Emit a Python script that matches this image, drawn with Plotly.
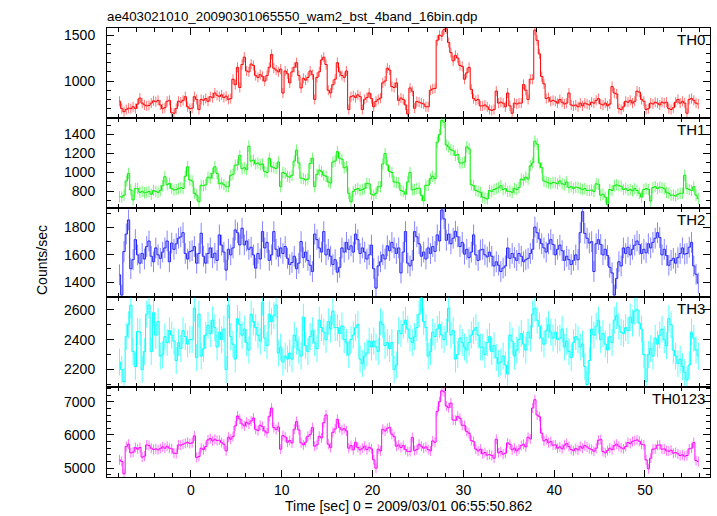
import numpy as np
import plotly.graph_objects as go
from plotly.subplots import make_subplots

# ---------------- data ----------------
bin_start = -7.875      # centre of first 0.25 s bin [sec]
bin_width = 0.25

th0 = [780, 700, 667, 690, 705, 700, 720, 700, 750, 815, 760, 740, 730, 735, 760, 785,
       775, 790, 740, 700, 710, 780, 790, 655, 650, 700, 780, 770, 790, 830, 720, 700,
       705, 830, 800, 690, 800, 790, 810, 780, 830, 820, 870, 845, 830, 850, 820, 835,
       800, 810, 1020, 960, 1150, 930, 1180, 1260, 1110, 1100, 1185, 1170, 1060, 1040, 1070, 1050,
       1000, 1060, 1150, 1290, 1140, 1120, 1100, 1130, 870, 1110, 1080, 980, 1100, 1150, 1200, 1060,
       925, 1030, 1010, 1040, 1110, 1070, 800, 1040, 1100, 1230, 1260, 1180, 900, 870, 960, 1020,
       1200, 1100, 1060, 1040, 1110, 690, 830, 840, 820, 850, 830, 690, 800, 820, 870, 810,
       720, 780, 800, 815, 980, 1000, 1140, 1120, 940, 930, 980, 790, 815, 800, 740, 640,
       925, 890, 704, 778, 770, 760, 750, 720, 720, 900, 915, 920, 1444, 1500, 1490, 1560,
       1570, 1420, 1310, 1220, 1280, 1250, 1170, 1160, 1020, 1090, 1150, 910, 810, 790, 800, 730,
       730, 740, 720, 690, 680, 690, 890, 760, 770, 760, 720, 870, 730, 650, 760, 750,
       760, 760, 963, 900, 800, 1020, 1020, 1555, 1444, 1296, 1050, 970, 810, 820, 780, 790,
       780, 760, 800, 770, 750, 760, 870, 740, 730, 740, 720, 760, 730, 760, 750, 740,
       770, 760, 790, 810, 750, 740, 760, 730, 750, 940, 870, 860, 700, 690, 720, 780,
       770, 790, 760, 780, 890, 880, 800, 780, 690, 700, 760, 750, 770, 760, 740, 770,
       760, 770, 700, 690, 710, 770, 800, 760, 780, 760, 650, 800, 810, 790, 760, 750]

th1 = [745, 740, 760, 910, 990, 815, 710, 830, 830, 790, 800, 785, 790, 800, 770, 810,
       800, 790, 810, 860, 955, 870, 885, 830, 815, 820, 830, 840, 830, 960, 1060, 920,
       910, 780, 760, 690, 865, 860, 870, 950, 940, 990, 1060, 990, 880, 890, 870, 850,
       850, 970, 980, 1077, 1080, 1180, 1040, 1050, 1030, 1277, 1120, 1130, 1090, 1100, 1080, 1090,
       1010, 1000, 1150, 1060, 1050, 1040, 1110, 850, 1000, 990, 960, 950, 970, 1120, 1235, 1100,
       940, 935, 920, 930, 1095, 1150, 850, 980, 1025, 1010, 970, 960, 900, 890, 1110, 1120,
       1220, 1150, 1140, 1050, 1060, 780, 690, 800, 820, 830, 810, 820, 830, 885, 880, 770,
       760, 780, 850, 850, 1090, 1200, 1080, 1010, 1000, 900, 895, 890, 810, 800, 770, 900,
       1000, 815, 820, 830, 835, 760, 700, 865, 865, 935, 960, 935, 1320, 1400, 1550, 1530,
       1290, 1270, 1240, 1230, 1180, 1190, 1100, 1100, 1110, 1270, 1250, 870, 860, 810, 800, 790,
       740, 730, 720, 810, 800, 820, 830, 840, 860, 820, 830, 800, 800, 790, 830, 820,
       840, 930, 920, 950, 930, 1070, 1100, 1330, 1300, 1100, 1050, 910, 900, 890, 880, 895,
       890, 880, 910, 880, 870, 900, 840, 850, 830, 845, 840, 830, 820, 830, 810, 810,
       815, 800, 880, 875, 760, 770, 740, 660, 820, 810, 860, 870, 860, 855, 820, 830,
       810, 820, 805, 830, 810, 780, 740, 820, 830, 820, 700, 840, 850, 830, 845, 840,
       830, 790, 780, 760, 760, 750, 770, 780, 780, 970, 830, 820, 810, 850, 760, 725]

th2 = [1456, 1310, 1624, 1750, 1852, 1500, 1565, 1710, 1600, 1540, 1610, 1570, 1660, 1700, 1590, 1550,
       1650, 1600, 1575, 1620, 1650, 1700, 1550, 1685, 1640, 1680, 1720, 1730, 1760, 1610, 1570, 1624,
       1630, 1660, 1540, 1610, 1756, 1590, 1540, 1610, 1650, 1580, 1612, 1560, 1744, 1670, 1620, 1490,
       1640, 1600, 1650, 1780, 1760, 1672, 1792, 1672, 1700, 1640, 1655, 1600, 1504, 1610, 1570, 1768,
       1650, 1690, 1560, 1600, 1768, 1640, 1590, 1650, 1610, 1660, 1575, 1530, 1545, 1590, 1500, 1540,
       1696, 1580, 1620, 1560, 1525, 1480, 1750, 1710, 1650, 1620, 1768, 1600, 1640, 1590, 1530, 1565,
       1475, 1510, 1650, 1620, 1690, 1640, 1665, 1620, 1750, 1710, 1610, 1650, 1620, 1570, 1600, 1670,
       1500, 1360, 1520, 1550, 1600, 1570, 1665, 1630, 1690, 1650, 1610, 1650, 1470, 1620, 1768, 1540,
       1520, 1560, 1768, 1730, 1680, 1590, 1620, 1570, 1650, 1610, 1660, 1625, 1744, 1700, 1924, 1860,
       1705, 1750, 1680, 1720, 1770, 1730, 1660, 1690, 1605, 1640, 1580, 1620, 1744, 1600, 1560, 1635,
       1640, 1600, 1585, 1620, 1590, 1520, 1550, 1525, 1480, 1505, 1520, 1650, 1575, 1610, 1580, 1560,
       1610, 1590, 1550, 1565, 1575, 1610, 1640, 1800, 1760, 1715, 1680, 1650, 1620, 1680, 1710, 1675,
       1600, 1640, 1670, 1630, 1560, 1590, 1565, 1530, 1560, 1600, 1565, 1760, 1912, 1755, 1720, 1685,
       1695, 1480, 1680, 1710, 1675, 1600, 1640, 1595, 1510, 1470, 1310, 1430, 1550, 1520, 1650, 1610,
       1655, 1600, 1640, 1670, 1700, 1675, 1610, 1640, 1615, 1680, 1650, 1690, 1720, 1760, 1725, 1600,
       1640, 1595, 1525, 1560, 1575, 1540, 1580, 1610, 1650, 1605, 1610, 1655, 1690, 1520, 1460, 1396]

th3 = [2250, 2200, 2120, 2420, 2500, 2630, 2320, 2220, 2455, 2450, 2200, 2320, 2570, 2630, 2320, 2580,
       2430, 2520, 2290, 2300, 2420, 2380, 2460, 2430, 2390, 2260, 2380, 2340, 2460, 2420, 2370, 2400,
       2400, 2610, 2280, 2570, 2290, 2340, 2430, 2495, 2440, 2530, 2480, 2350, 2450, 2400, 2470, 2200,
       2630, 2420, 2370, 2270, 2540, 2500, 2430, 2470, 2380, 2330, 2570, 2520, 2480, 2430, 2390, 2650,
       2410, 2360, 2570, 2520, 2560, 2630, 2310, 2350, 2250, 2290, 2270, 2310, 2270, 2430, 2390, 2330,
       2290, 2550, 2360, 2320, 2420, 2460, 2380, 2340, 2530, 2480, 2450, 2400, 2520, 2470, 2590, 2480,
       2480, 2440, 2490, 2400, 2380, 2300, 2400, 2430, 2480, 2500, 2270, 2240, 2290, 2310, 2390, 2350,
       2390, 2350, 2320, 2520, 2500, 2360, 2380, 2340, 2380, 2200, 2230, 2460, 2440, 2500, 2530, 2470,
       2410, 2380, 2420, 2480, 2570, 2680, 2520, 2480, 2290, 2320, 2450, 2420, 2470, 2500, 2430, 2400,
       2450, 2610, 2430, 2460, 2270, 2300, 2410, 2380, 2350, 2330, 2380, 2430, 2460, 2480, 2430, 2350,
       2350, 2300, 2380, 2420, 2320, 2360, 2280, 2240, 2250, 2290, 2230, 2170, 2430, 2390, 2290, 2330,
       2400, 2440, 2370, 2330, 2450, 2410, 2570, 2610, 2530, 2490, 2410, 2370, 2460, 2500, 2450, 2410,
       2450, 2400, 2410, 2470, 2350, 2390, 2320, 2280, 2380, 2420, 2400, 2350, 2370, 2220, 2100, 2260,
       2470, 2430, 2490, 2530, 2400, 2440, 2370, 2330, 2420, 2380, 2530, 2560, 2490, 2450, 2440, 2480,
       2460, 2550, 2510, 2590, 2600, 2510, 2470, 2300, 2120, 2300, 2340, 2290, 2410, 2370, 2430, 2470,
       2400, 2360, 2540, 2500, 2330, 2290, 2240, 2270, 2220, 2180, 2130, 2230, 2450, 2410, 2330, 2290]

th0123 = [5250, 5200, 4830, 5650, 5720, 5460, 5480, 5620, 5570, 5620, 5330, 5360, 5700, 5680, 5600, 5560,
          5580, 5550, 5590, 5640, 5600, 5660, 5600, 5580, 5450, 5440, 5700, 5690, 5720, 5750, 5780, 5740,
          5760, 5970, 5320, 5350, 5600, 5560, 5650, 5850, 5890, 5820, 5870, 5830, 5840, 5770, 5720, 5520,
          5930, 5870, 5950, 6270, 6570, 6480, 6330, 6270, 6380, 6330, 6420, 6510, 6170, 6130, 6290, 6250,
          6120, 6060, 6560, 6810, 6220, 6160, 6240, 5570, 5980, 5940, 5780, 5830, 5760, 6170, 6400, 6150,
          5760, 5700, 5780, 5960, 6010, 6220, 5660, 5700, 5960, 5910, 6370, 6600, 5720, 5620, 6080, 6180,
          6470, 6220, 6150, 6190, 6120, 5600, 5680, 5550, 5780, 5620, 5550, 5600, 5660, 5560, 5630, 5580,
          5250, 5000, 5570, 5520, 6170, 6120, 6200, 6230, 6020, 5950, 5660, 5700, 5620, 5680, 5560, 5500,
          5500, 5920, 5530, 5560, 5720, 5660, 5600, 5640, 5560, 5520, 5820, 5780, 6710, 7000, 7330, 7300,
          6870, 6820, 6960, 6450, 6440, 6560, 6500, 6290, 6280, 6100, 6050, 5830, 5800, 5570, 5520, 5570,
          5430, 5470, 5390, 5410, 5380, 5300, 5870, 5460, 5500, 5420, 5450, 5760, 5720, 5550, 5600, 5520,
          5580, 5680, 5720, 5640, 5930, 5880, 6810, 7060, 6600, 6550, 6050, 5820, 5860, 5770, 5800, 5690,
          5700, 5600, 5640, 5580, 5690, 5740, 5650, 5560, 5520, 5590, 5550, 5650, 5600, 5680, 5640, 5590,
          5560, 5510, 5600, 5840, 5860, 5500, 5460, 5530, 5600, 5560, 5680, 5720, 5660, 5610, 5580, 5650,
          5770, 5740, 5800, 5830, 5850, 5810, 5720, 5700, 5250, 4980, 5300, 5570, 5580, 5690, 5700, 5570,
          5580, 5520, 5510, 5540, 5450, 5470, 5430, 5380, 5400, 5360, 5380, 5580, 5600, 5770, 5230, 5200]

# half-length of the error bars (counts/sec), per panel
errors = [55, 60, 75, 90, 150]
panel_names = ["TH0", "TH1", "TH2", "TH3", "TH0123"]
series = [th0, th1, th2, th3, th0123]

# axis set-up per panel
y_ranges = [[600, 1578], [629, 1577], [1293, 1941], [2082, 2682], [4733, 7437]]
y_major = [500, 200, 200, 200, 1000]
y_minor = [100, 100, 100, 100, 200]
x_range = [-9.25, 57.16]

line_colors = ["#ff0000", "#00ee00", "#2222ff", "#00ffff", "#ff00ff"]
err_colors = ["rgba(255,0,0,0.55)", "rgba(0,238,0,0.55)", "rgba(34,34,255,0.55)",
              "rgba(0,255,255,0.65)", "rgba(255,0,255,0.55)"]

FONT = "Liberation Sans, Arial, sans-serif"

time = bin_start + bin_width * np.arange(len(th0))

fig = make_subplots(rows=5, cols=1, shared_xaxes=True, vertical_spacing=0)

for i, (vals, err) in enumerate(zip(series, errors)):
    fig.add_trace(go.Scatter(
        x=time, y=vals, mode="lines",
        line=dict(color=line_colors[i], width=1, shape="hvh"),
        error_y=dict(type="constant", value=err, color=err_colors[i], thickness=1, width=0),
        showlegend=False, hoverinfo="skip"), row=i + 1, col=1)
    fig.update_yaxes(range=y_ranges[i], tick0=0, dtick=y_major[i],
                     ticks="inside", ticklen=7, tickcolor="black", tickwidth=1,
                     minor=dict(dtick=y_minor[i], ticks="inside", ticklen=4, tickcolor="black", showgrid=False),
                     mirror="allticks", showline=True, linecolor="black", linewidth=1,
                     showgrid=False, zeroline=False, automargin=False, ticklabelstandoff=8,
                     tickfont=dict(family=FONT, size=14, color="black"),
                     row=i + 1, col=1)
    fig.add_annotation(text=panel_names[i], xref=f"x{'' if i == 0 else i + 1} domain",
                       yref=f"y{'' if i == 0 else i + 1} domain", x=1, y=1,
                       xanchor="right", yanchor="top", xshift=-3, yshift=-1, showarrow=False,
                       font=dict(family=FONT, size=15, color="black"))

fig.update_xaxes(range=x_range, tick0=0, dtick=10,
                 ticks="inside", ticklen=7, tickcolor="black", tickwidth=1,
                 minor=dict(dtick=2, ticks="inside", ticklen=4, tickcolor="black", showgrid=False),
                 mirror="allticks", showline=True, linecolor="black", linewidth=1,
                 showgrid=False, zeroline=False, automargin=False,
                 tickfont=dict(family=FONT, size=14, color="black"))

fig.add_annotation(text="ae403021010_20090301065550_wam2_bst_4band_16bin.qdp",
                   xref="paper", yref="paper", x=0, y=1, xanchor="left", yanchor="bottom",
                   xshift=-2, yshift=2, showarrow=False,
                   font=dict(family=FONT, size=13.3, color="black"))
fig.add_annotation(text="Time [sec] 0 = 2009/03/01 06:55:50.862",
                   xref="paper", yref="paper", x=0.5, y=0, xanchor="center", yanchor="top",
                   yshift=-19, showarrow=False,
                   font=dict(family=FONT, size=14, color="black"))
fig.add_annotation(text="Counts/sec", textangle=-90,
                   xref="paper", yref="paper", x=-0.108, y=0.483, xanchor="center", yanchor="middle",
                   showarrow=False, font=dict(family=FONT, size=14, color="black"))

fig.update_layout(width=717, height=516,
                  margin=dict(l=107, r=7, t=28, b=39),
                  plot_bgcolor="white", paper_bgcolor="white",
                  showlegend=False)

fig.write_html("out.html", config={"displayModeBar": False},
               post_script="document.body.style.margin='0';")
